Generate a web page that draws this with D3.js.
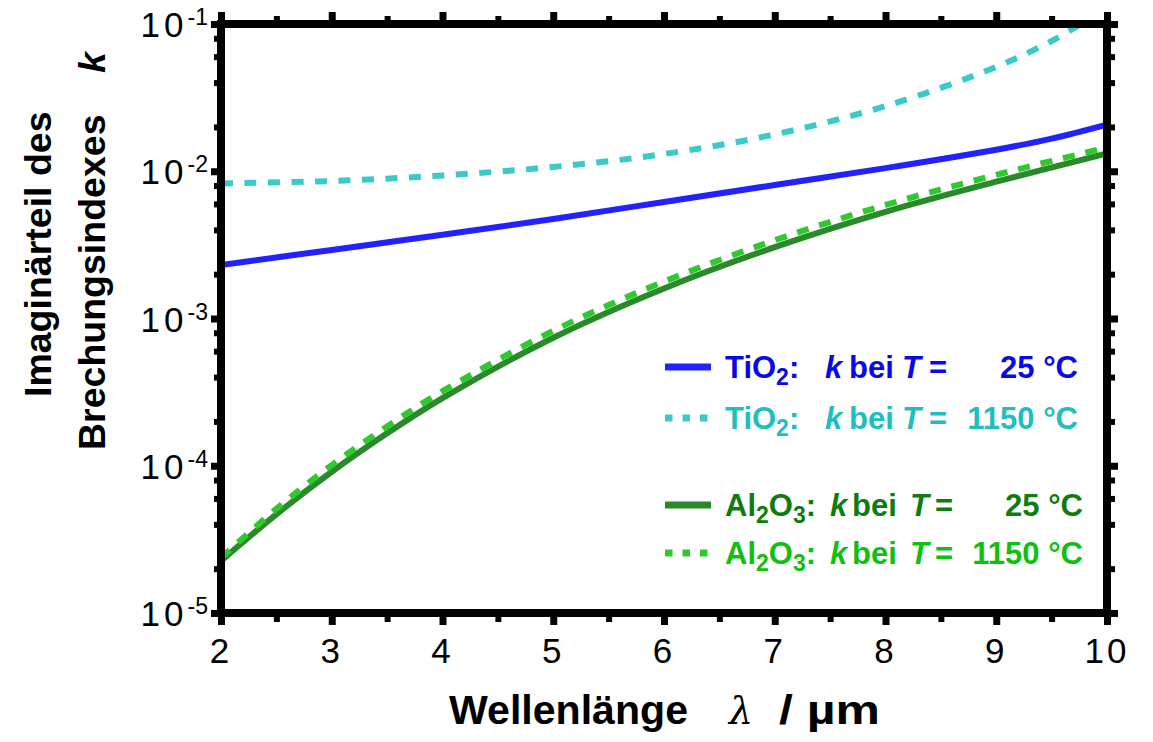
<!DOCTYPE html>
<html>
<head>
<meta charset="utf-8">
<script src="https://cdn.jsdelivr.net/npm/d3@7"></script>
<style>
  html, body { margin: 0; padding: 0; background: #fff; }
  svg { display: block; font-family: "Liberation Sans", Arial, sans-serif; }
</style>
</head>
<body>
<svg id="chart" width="1153" height="742"></svg>
<script>
// Wavelength grids (µm) for each curve
const lambdaTiO2 = [2, 3, 4, 5, 6, 7, 8, 9, 9.5, 10];
const lambdaTiO2Hot = [2, 3, 4, 5, 6, 7, 8, 9, 9.5, 9.75];
const lambdaAl2O3 = [2, 2.5, 3, 3.5, 4, 5, 6, 7, 8, 9, 10];

// Extinction coefficient k
const kTiO2_25 = [2.31e-3, 2.92e-3, 3.70e-3, 4.74e-3, 6.19e-3, 8.07e-3, 1.05e-2, 1.40e-2, 1.667e-2, 2.075e-2];
const kTiO2_1150 = [8.26e-3, 8.59e-3, 9.37e-3, 1.07e-2, 1.31e-2, 1.78e-2, 2.77e-2, 5.11e-2, 7.67e-2, 9.85e-2];
const kAl2O3_25 = [2.26e-5, 4.68e-5, 9.1e-5, 1.66e-4, 2.88e-4, 7.40e-4, 1.60e-3, 3.05e-3, 5.30e-3, 8.49e-3, 1.32e-2];
const kAl2O3_1150 = [2.37e-5, 5.1e-5, 1.01e-4, 1.85e-4, 3.21e-4, 8.25e-4, 1.78e-3, 3.40e-3, 5.9e-3, 9.45e-3, 1.45e-2];

// Axis ticks
const xTicks = [2, 3, 4, 5, 6, 7, 8, 9, 10];
const xMinorTicks = [2.5, 3.5, 4.5, 5.5, 6.5, 7.5, 8.5, 9.5];
const yTicks = [1e-5, 1e-4, 1e-3, 1e-2, 1e-1];
const yTickExponents = ["-5", "-4", "-3", "-2", "-1"];
const yMinorMantissas = [2, 4, 6, 8];

// Legend entries
const legendFormulas = [["TiO", "2", ":"], ["TiO", "2", ":"], ["Al", "2", "O", "3", ":"], ["Al", "2", "O", "3", ":"]];
const legendTemps = ["25 °C", "1150 °C", "25 °C", "1150 °C"];

const svg = d3.select("#chart");
const plot = { left: 221, right: 1107, top: 24, bottom: 613 };

const x = d3.scaleLinear().domain([2, 10]).range([plot.left, plot.right]);
const y = d3.scaleLog().domain([1e-5, 1e-1]).range([plot.bottom, plot.top]);

const yMinorTicks = [];
yTicks.slice(0, -1).forEach(d => yMinorMantissas.forEach(m => yMinorTicks.push(d * m)));

const series = [
  { lam: lambdaTiO2Hot, k: kTiO2_1150, color: "#3cc9c9", dash: "12,11.5", legendColor: "#1fbfbf", legendDash: "7.5,10" },
  { lam: lambdaTiO2, k: kTiO2_25, color: "#2222ff", dash: null, legendColor: "#0808ee", legendDash: null },
  { lam: lambdaAl2O3, k: kAl2O3_25, color: "#2a8a2a", dash: null, legendColor: "#0e7c0e", legendDash: null },
  { lam: lambdaAl2O3, k: kAl2O3_1150, color: "#2dc92d", dash: "12,11", legendColor: "#10c010", legendDash: "7.5,10" }
];

const line = d3.line()
  .x(d => x(d[0]))
  .y(d => y(d[1]))
  .curve(d3.curveCatmullRom.alpha(0.5));

svg.append("clipPath").attr("id", "plotClip")
  .append("rect")
  .attr("x", plot.left).attr("y", plot.top)
  .attr("width", plot.right - plot.left).attr("height", plot.bottom - plot.top);

const curves = svg.append("g").attr("clip-path", "url(#plotClip)");
series.forEach(s => {
  curves.append("path")
    .datum(s.lam.map((l, i) => [l, s.k[i]]))
    .attr("d", line)
    .attr("fill", "none")
    .attr("stroke", s.color)
    .attr("stroke-width", 6)
    .attr("stroke-dasharray", s.dash);
});

// Frame and outward ticks
function styleAxis(g, width) {
  g.select(".domain").remove();
  g.selectAll(".tick line").attr("stroke", "#000").attr("stroke-width", width);
  g.selectAll(".tick text").remove();
}

svg.append("g").attr("transform", `translate(0,${plot.bottom})`)
  .call(d3.axisBottom(x).tickValues(xTicks).tickSize(12)).call(g => styleAxis(g, 7));
svg.append("g").attr("transform", `translate(0,${plot.bottom})`)
  .call(d3.axisBottom(x).tickValues(xMinorTicks).tickSize(9)).call(g => styleAxis(g, 6));
svg.append("g").attr("transform", `translate(0,${plot.top})`)
  .call(d3.axisTop(x).tickValues(xTicks).tickSize(12)).call(g => styleAxis(g, 7));
svg.append("g").attr("transform", `translate(0,${plot.top})`)
  .call(d3.axisTop(x).tickValues(xMinorTicks).tickSize(8)).call(g => styleAxis(g, 6));
svg.append("g").attr("transform", `translate(${plot.left},0)`)
  .call(d3.axisLeft(y).tickValues(yTicks).tickSize(10)).call(g => styleAxis(g, 7));
svg.append("g").attr("transform", `translate(${plot.left},0)`)
  .call(d3.axisLeft(y).tickValues(yMinorTicks).tickSize(7)).call(g => styleAxis(g, 6));
svg.append("g").attr("transform", `translate(${plot.right},0)`)
  .call(d3.axisRight(y).tickValues(yTicks).tickSize(11)).call(g => styleAxis(g, 7));
svg.append("g").attr("transform", `translate(${plot.right},0)`)
  .call(d3.axisRight(y).tickValues(yMinorTicks).tickSize(8)).call(g => styleAxis(g, 6));

svg.append("rect")
  .attr("x", plot.left).attr("y", plot.top)
  .attr("width", plot.right - plot.left).attr("height", plot.bottom - plot.top)
  .attr("fill", "none").attr("stroke", "#000").attr("stroke-width", 8);

// Tick labels
svg.append("g").selectAll("text").data(xTicks).join("text")
  .attr("x", d => x(d)).attr("y", plot.bottom + 50)
  .attr("text-anchor", "middle")
  .attr("font-size", 35)
  .attr("letter-spacing", 3)
  .text(d => d);

const yLab = svg.append("g").selectAll("text").data(yTicks).join("text")
  .attr("x", 208).attr("y", d => y(d) + 13)
  .attr("text-anchor", "end")
  .attr("font-size", 35);
yLab.append("tspan").attr("letter-spacing", 4).text("10");
yLab.append("tspan").attr("dy", -12).attr("font-size", 23).text((d, i) => yTickExponents[i]);

// Axis titles
svg.append("text")
  .attr("x", 449).attr("y", 724)
  .attr("font-size", 40).attr("font-weight", "bold")
  .attr("textLength", 239).attr("lengthAdjust", "spacingAndGlyphs")
  .text("Wellenlänge");
svg.append("text")
  .attr("x", 729).attr("y", 724)
  .attr("font-size", 38).attr("font-family", "DejaVu Serif").attr("font-style", "italic")
  .text("λ");
svg.append("text")
  .attr("x", 779).attr("y", 724)
  .attr("font-size", 40).attr("font-weight", "bold")
  .attr("textLength", 101).attr("lengthAdjust", "spacingAndGlyphs")
  .text("/ µm");

svg.append("text")
  .attr("transform", "translate(51,397) rotate(-90)")
  .attr("font-size", 37.5).attr("font-weight", "bold")
  .text("Imaginärteil des");
svg.append("text")
  .attr("transform", "translate(105,450) rotate(-90)")
  .attr("font-size", 37.5).attr("font-weight", "bold")
  .text("Brechungsindexes");
svg.append("text")
  .attr("transform", "translate(105,73) rotate(-90)")
  .attr("font-size", 37.5).attr("font-weight", "bold").attr("font-style", "italic")
  .text("k");

// Legend
const legendRowsY = [367, 418, 505, 553];
const legendOrder = [1, 0, 2, 3];
legendOrder.forEach((si, row) => {
  const s = series[si];
  const ly = legendRowsY[row];
  const g = svg.append("g");
  g.append("line")
    .attr("x1", 665).attr("x2", 711).attr("y1", ly).attr("y2", ly)
    .attr("stroke", s.color).attr("stroke-width", 7)
    .attr("stroke-dasharray", s.legendDash);
  const isAl = legendFormulas[row].length > 3;
  const t = g.append("text")
    .attr("x", 725).attr("y", ly + 11)
    .attr("font-size", 31).attr("font-weight", "bold").attr("fill", s.legendColor);
  legendFormulas[row].forEach((part, j) => {
    if (/^\d$/.test(part)) {
      t.append("tspan").attr("font-size", 23).attr("dy", 7).text(part);
    } else {
      const ts = t.append("tspan").text(part);
      if (j > 0 && /^\d$/.test(legendFormulas[row][j - 1])) ts.attr("dy", -7);
    }
  });
  g.append("text").attr("x", isAl ? 830 : 825).attr("y", ly + 11)
    .attr("font-size", 31).attr("font-weight", "bold").attr("font-style", "italic")
    .attr("fill", s.legendColor).text("k");
  g.append("text").attr("x", isAl ? 852 : 849).attr("y", ly + 11)
    .attr("font-size", 31).attr("font-weight", "bold")
    .attr("fill", s.legendColor).text("bei");
  g.append("text").attr("x", isAl ? 910 : 902).attr("y", ly + 11)
    .attr("font-size", 31).attr("font-weight", "bold").attr("font-style", "italic")
    .attr("fill", s.legendColor).text("T");
  g.append("text").attr("x", isAl ? 935 : 929).attr("y", ly + 11)
    .attr("font-size", 31).attr("font-weight", "bold")
    .attr("fill", s.legendColor).text("=");
  g.append("text").attr("x", isAl ? 1083 : 1078).attr("y", ly + 11)
    .attr("text-anchor", "end")
    .attr("font-size", 31).attr("font-weight", "bold")
    .attr("fill", s.legendColor).text(legendTemps[row]);
});
</script>
</body>
</html>
